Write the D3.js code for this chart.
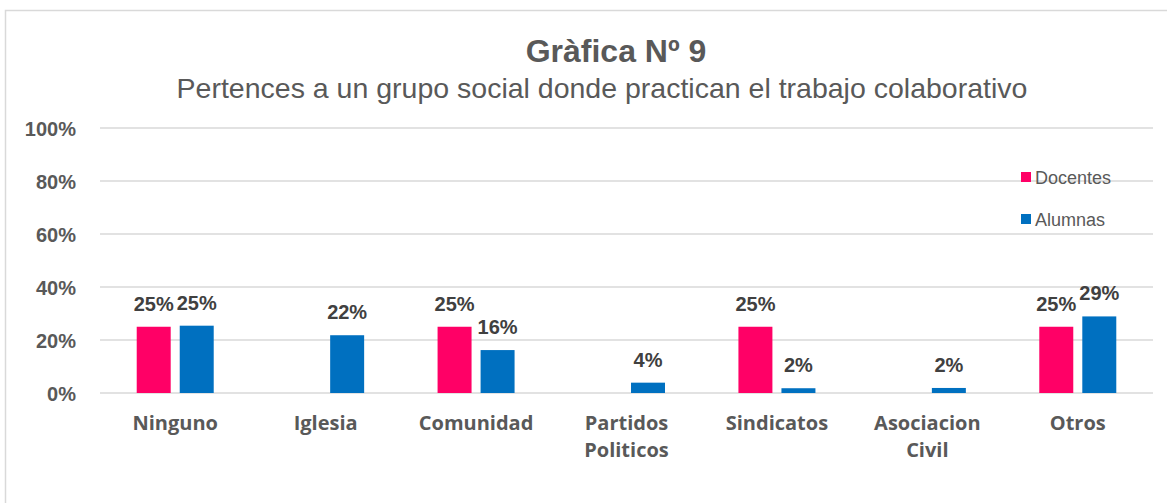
<!DOCTYPE html>
<html>
<head>
<meta charset="utf-8">
<script src="https://cdn.jsdelivr.net/npm/d3@7"></script>
<style>
  html, body { margin: 0; padding: 0; background: #fff; }
  svg { display: block; }
  .tick-label { font-family: "Liberation Sans", Arial, sans-serif; font-weight: bold; font-size: 20px; fill: #595959; }
  .cat-label  { font-family: "Open Sans", "Noto Sans", sans-serif; font-weight: bold; font-size: 20px; fill: #595959; }
  .val-label  { font-family: "Liberation Sans", Arial, sans-serif; font-weight: bold; font-size: 20px; fill: #404040; }
  .legend-txt { font-family: "Liberation Sans", Arial, sans-serif; font-size: 18px; fill: #595959; }
</style>
</head>
<body>
<svg id="chart"></svg>
<script>
// ── Data ─────────────────────────────────────────────
const categories = [['Ninguno'], ['Iglesia'], ['Comunidad'], ['Partidos', 'Politicos'],
                    ['Sindicatos'], ['Asociacion', 'Civil'], ['Otros']];
const seriesNames = ['Docentes', 'Alumnas'];
const docentes = [0.25, null, 0.25, null, 0.25, null, 0.25];
const alumnas  = [0.254, 0.218, 0.162, 0.039, 0.018, 0.019, 0.289];
const yTicks   = [0, 0.2, 0.4, 0.6, 0.8, 1.0];
const colors   = { Docentes: '#ff0066', Alumnas: '#0070c0' };

const W = 1167, H = 503;
const svg = d3.select('#chart').attr('width', W).attr('height', H);

// chart border (right and bottom are cut off in the original)
svg.append('rect')
  .attr('x', 5.5).attr('y', 10.5)
  .attr('width', W + 20).attr('height', H + 20)
  .attr('fill', 'none').attr('stroke', '#d9d9d9').attr('stroke-width', 1.5);

// titles
svg.append('text')
  .attr('x', 616).attr('y', 62)
  .attr('text-anchor', 'middle')
  .style('font-family', '"Liberation Sans", Arial, sans-serif')
  .style('font-weight', 'bold').style('font-size', '32px').style('fill', '#595959')
  .text('Gràfica Nº 9');

svg.append('text')
  .attr('x', 602).attr('y', 98)
  .attr('text-anchor', 'middle')
  .style('font-family', '"Liberation Sans", Arial, sans-serif')
  .style('font-size', '28.5px').style('fill', '#595959')
  .text('Pertences a un grupo social donde practican el trabajo colaborativo');

// ── Scales ───────────────────────────────────────────
const plot = { left: 100, right: 1153, top: 128, bottom: 393 };

const x = d3.scaleBand()
  .domain(d3.range(categories.length))
  .range([plot.left, plot.right])
  .padding(0);

const groupW = 77;
const xs = d3.scaleBand()
  .domain(seriesNames)
  .range([(x.bandwidth() - groupW) / 2, (x.bandwidth() + groupW) / 2])
  .paddingInner(0.21);

const y = d3.scaleLinear().domain([0, 1]).range([plot.bottom, plot.top]);

// gridlines
svg.append('g')
  .selectAll('line')
  .data(yTicks)
  .enter()
  .append('line')
  .attr('x1', plot.left).attr('x2', plot.right)
  .attr('y1', d => y(d)).attr('y2', d => y(d))
  .attr('stroke', '#d9d9d9').attr('stroke-width', 1.3);

// y tick labels
svg.append('g')
  .selectAll('text')
  .data(yTicks)
  .enter()
  .append('text')
  .attr('class', 'tick-label')
  .attr('x', 76)
  .attr('y', d => y(d) + 7.5)
  .attr('text-anchor', 'end')
  .text(d => d3.format('.0%')(d));

// ── Bars ─────────────────────────────────────────────
const rows = [];
categories.forEach((c, i) => {
  rows.push({ i, s: 'Docentes', v: docentes[i] });
  rows.push({ i, s: 'Alumnas',  v: alumnas[i] });
});
const shown = rows.filter(d => d.v != null);

svg.append('g')
  .selectAll('rect')
  .data(shown)
  .enter()
  .append('rect')
  .attr('x', d => x(d.i) + xs(d.s))
  .attr('y', d => y(d.v))
  .attr('width', xs.bandwidth())
  .attr('height', d => y(0) - y(d.v))
  .attr('fill', d => colors[d.s]);

// value labels
svg.append('g')
  .selectAll('text')
  .data(shown)
  .enter()
  .append('text')
  .attr('class', 'val-label')
  .attr('x', d => x(d.i) + xs(d.s) + xs.bandwidth() / 2)
  .attr('y', d => y(d.v) - 16)
  .attr('text-anchor', 'middle')
  .text(d => d3.format('.0%')(d.v));

// category labels
const cat = svg.append('g')
  .selectAll('text')
  .data(categories)
  .enter()
  .append('text')
  .attr('class', 'cat-label')
  .attr('text-anchor', 'middle')
  .attr('x', (d, i) => x(i) + x.bandwidth() / 2)
  .attr('y', 430);

cat.selectAll('tspan')
  .data(d => d)
  .enter()
  .append('tspan')
  .attr('x', function () { return d3.select(this.parentNode).attr('x'); })
  .attr('dy', (d, j) => j === 0 ? 0 : 27)
  .text(d => d);

// ── Legend ───────────────────────────────────────────
const legend = svg.append('g')
  .selectAll('g')
  .data(seriesNames)
  .enter()
  .append('g')
  .attr('transform', (d, i) => `translate(1021,${172 + i * 42})`);

legend.append('rect')
  .attr('width', 10).attr('height', 10)
  .attr('fill', d => colors[d]);

legend.append('text')
  .attr('class', 'legend-txt')
  .attr('x', 14).attr('y', 11.5)
  .text(d => d);
</script>
</body>
</html>
